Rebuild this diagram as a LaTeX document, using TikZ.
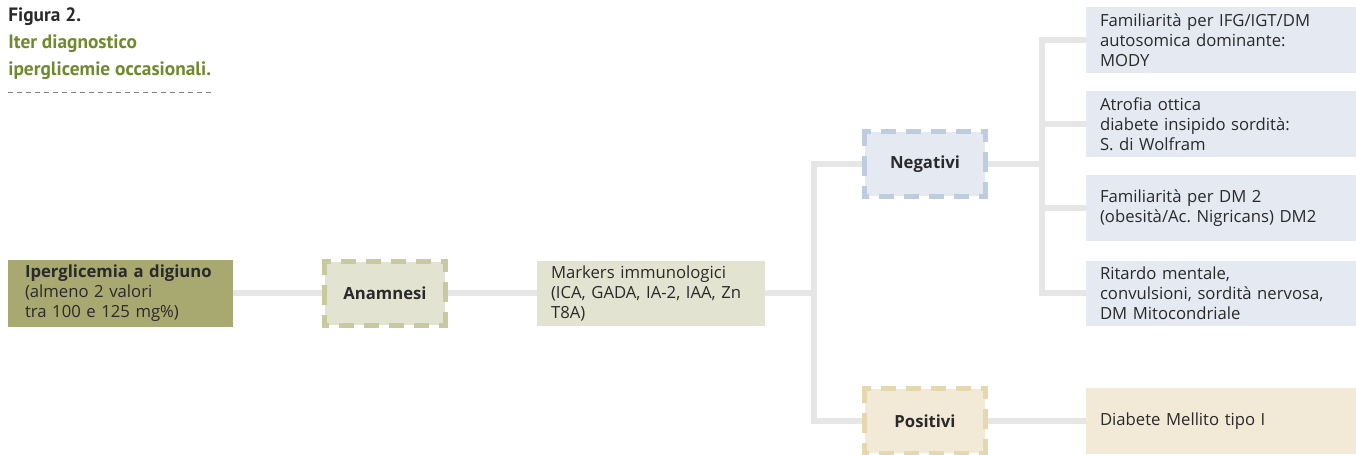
\documentclass[tikz,border=0pt]{standalone}
\usepackage{fontspec}
\setmainfont{Open Sans}
\newfontfamily\titlefont{PT Sans}
\usetikzlibrary{backgrounds}
\definecolor{olivebox}{HTML}{A8A871}
\definecolor{anamfill}{HTML}{E2E3D0}
\definecolor{anamline}{HTML}{C9C9A0}
\definecolor{negfill}{HTML}{E4E9F2}
\definecolor{negline}{HTML}{BFCCDF}
\definecolor{posfill}{HTML}{F2EAD7}
\definecolor{posline}{HTML}{E6D8AE}
\definecolor{linkgray}{HTML}{E6E6E6}
\definecolor{titlegreen}{HTML}{6E8A2C}
\definecolor{txt}{HTML}{2A2A2A}
\frenchspacing
\tikzset{
  box/.style={fill=#1, text=txt, inner xsep=0.28cm, inner ysep=0pt, minimum height=1.32cm, text width=4.84cm, align=left, font=\fontsize{9.5}{11.3}\selectfont},
  tagbox/.style={fill=#1, text=txt, inner sep=0pt, minimum width=2.42cm, minimum height=1.28cm, align=center, font=\fontsize{9.5}{11.3}\selectfont\bfseries},
  hside/.style={draw=#1, line width=0.1cm, dash pattern=on 0.3cm off 0.2cm, dash phase=0.12cm},
  vside/.style={draw=#1, line width=0.1cm, dash pattern=on 0.4cm off 0.2cm, dash phase=0.14cm},
  link/.style={draw=linkgray, line width=0.12cm},
  titletxt/.style={anchor=base west, inner sep=0pt, font=\titlefont\fontsize{11}{12}\selectfont\bfseries}
}
\begin{document}
\begin{tikzpicture}[x=0.02cm,y=-0.02cm]
\useasboundingbox (0,0) rectangle (1356,455);
\node[titletxt, text=txt] (fig) at (8,22) {Figura 2.};
\node[titletxt, text=titlegreen] (tit1) at (8,49) {Iter diagnostico};
\node[titletxt, text=titlegreen] (tit2) at (8,76) {iperglicemie occasionali.};
\draw[gray, line width=0.02cm, dash pattern=on 0.1cm off 0.08cm] (8,93) -- (212,93);

\node[box=olivebox, text width=3.82cm, inner xsep=0.34cm, minimum height=1.34cm] (iper) at (120.5,293.5) {\textbf{Iperglicemia a digiuno}\\(almeno 2 valori\\tra 100 e 125 mg\%)};
\node[tagbox=anamfill] (anam) at (385,293.5) {Anamnesi};
\node[box=anamfill, text width=4cm] (mark) at (651,293.5) {Markers immunologici\\(ICA, GADA, IA-2, IAA, Zn\\T8A)};
\node[tagbox=negfill] (neg) at (925,164) {Negativi};
\node[tagbox=posfill] (pos) at (925,421) {Positivi};
\node[box=negfill] (mody) at (1221,40) {Familiarità per IFG/IGT/DM\\autosomica dominante:\\MODY};
\node[box=negfill] (wolf) at (1221,124) {Atrofia ottica\\diabete insipido sordità:\\S. di Wolfram};
\node[box=negfill] (dm2) at (1221,208) {Familiarità per DM 2\\(obesità/Ac. Nigricans) DM2};
\node[box=negfill] (mito) at (1221,293.5) {Ritardo mentale,\\convulsioni, sordità nervosa,\\DM Mitocondriale};
\node[box=posfill] (dm1) at (1221,421) {Diabete Mellito tipo I};

\foreach \n/\c in {anam/anamline,neg/negline,pos/posline}{
  \draw[hside=\c] ([xshift=-0.05cm]\n.north west) -- (\n.north east);
  \draw[vside=\c] ([yshift=0.05cm]\n.north east) -- (\n.south east);
  \draw[hside=\c] ([xshift=0.05cm]\n.south east) -- (\n.south west);
  \draw[vside=\c] ([yshift=-0.05cm]\n.south west) -- (\n.north west);
}

\begin{scope}[on background layer]
\path (mark.east) -- ++(49,0) coordinate (marksplit);
\path (neg.east) -- ++(56,0) coordinate (negsplit);
\draw[link] (iper) -- (anam);
\draw[link] (anam) -- (mark);
\draw[link] (mark.east) -- (marksplit);
\draw[link] (neg.west) -| (marksplit) |- (pos.west);
\draw[link] (neg.east) -- (negsplit);
\draw[link] (mody.west) -| (negsplit) |- (mito.west);
\draw[link] (negsplit) |- (wolf.west);
\draw[link] (negsplit) |- (dm2.west);
\draw[link] (pos) -- (dm1);
\end{scope}
\end{tikzpicture}
\end{document}
